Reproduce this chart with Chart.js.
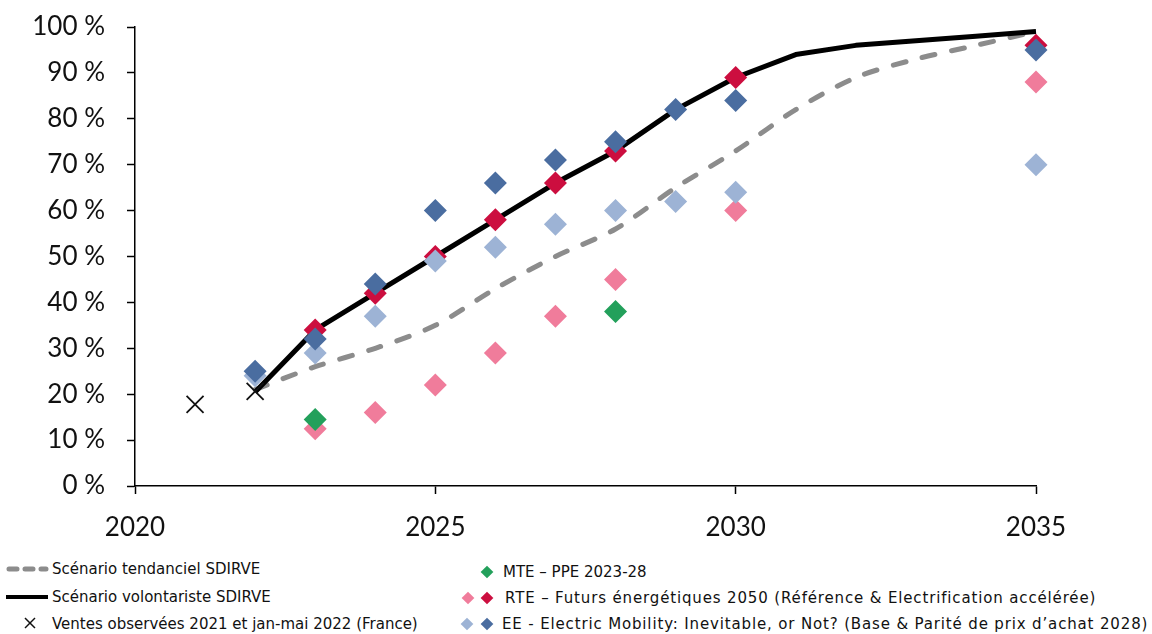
<!DOCTYPE html>
<html>
<head>
<meta charset="utf-8">
<script src="https://cdn.jsdelivr.net/npm/chart.js@4/dist/chart.umd.min.js"></script>
<style>
  html, body { margin: 0; padding: 0; background: #fff; }
  body { width: 1152px; height: 634px; position: relative; overflow: hidden; }
  #wrap { position: absolute; left: 0; top: 0; width: 1152px; height: 545px; }
  .lg { position: absolute; font-family: "DejaVu Sans", sans-serif; font-size: 15px; color: #111; white-space: nowrap; line-height: 18px; }
  .wide { letter-spacing: 0.85px; }
  #sym { position: absolute; left: 0; top: 545px; }
</style>
</head>
<body>
<div id="wrap"><canvas id="c" width="1152" height="545"></canvas></div>
<svg id="sym" width="1152" height="89" xmlns="http://www.w3.org/2000/svg">
  <line x1="9" y1="24" x2="46" y2="24" stroke="#8c8c8c" stroke-width="5" stroke-dasharray="8 8" stroke-linecap="round"/>
  <line x1="6" y1="52" x2="48" y2="52" stroke="#000" stroke-width="4"/>
  <g stroke="#111" stroke-width="1.5"><line x1="25" y1="73" x2="35" y2="83"/><line x1="35" y1="73" x2="25" y2="83"/></g>
  <rect x="482.5" y="22.5" width="9" height="9" fill="#23a05b" transform="rotate(45 487 27)"/>
  <rect x="463.5" y="48.5" width="9" height="9" fill="#f07c9b" transform="rotate(45 468 53)"/>
  <rect x="482.5" y="48.5" width="9" height="9" fill="#cc0e3f" transform="rotate(45 487 53)"/>
  <rect x="462.5" y="74.5" width="9" height="9" fill="#9db3d5" transform="rotate(45 467 79)"/>
  <rect x="482.5" y="74.5" width="9" height="9" fill="#4a6da0" transform="rotate(45 487 79)"/>
</svg>
<div class="lg" style="left:52px; top:560px;">Scénario tendanciel SDIRVE</div>
<div class="lg" style="left:52px; top:588px;">Scénario volontariste SDIRVE</div>
<div class="lg" style="left:52px; top:615px;">Ventes observées 2021 et jan-mai 2022 (France)</div>
<div class="lg" style="left:503px; top:563px;">MTE – PPE 2023-28</div>
<div class="lg wide" style="left:505px; top:589px;">RTE – Futurs énergétiques 2050 (Référence &amp; Electrification accélérée)</div>
<div class="lg wide" style="left:502px; top:615px;">EE - Electric Mobility: Inevitable, or Not? (Base &amp; Parité de prix d’achat 2028)</div>
<script>
// ---- Data (values in %) ----
const xTicks = [2020, 2025, 2030, 2035];
const yTicks = [0, 10, 20, 30, 40, 50, 60, 70, 80, 90, 100];

const scenarioYears = [2022, 2023, 2024, 2025, 2026, 2027, 2028, 2029, 2030, 2031, 2032, 2033, 2034, 2035];
const tendanciel   = [21, 26, 30, 35, 43, 50, 56, 65, 73, 82, 89, 93, 96, 99];
const volontariste = [20.5, 34, 42, 50, 58, 66, 73, 82, 89, 94, 96, 97, 98, 99];

const ventesYears = [2021, 2022];
const ventes = [17.8, 20.6];

const mteYears = [2023, 2028];
const mte = [14.5, 38];

const rteYears = [2023, 2024, 2025, 2026, 2027, 2028, 2030, 2035];
const rteReference = [12.5, 16, 22, 29, 37, 45, 60, 88];
const rteAccel     = [34, 42, 50, 58, 66, 73, 89, 96];

const eeYears = [2022, 2023, 2024, 2025, 2026, 2027, 2028, 2029, 2030, 2035];
const eeBase   = [24, 29, 37, 49, 52, 57, 60, 62, 64, 70];
const eeParite = [25, 32, 44, 60, 66, 71, 75, 82, 84, 95];

const pts = (xs, ys) => xs.map((x, i) => ({ x: x, y: ys[i] }));

const diamond = (label, xs, ys, color, order) => ({
  type: 'scatter', label, data: pts(xs, ys), order,
  pointStyle: 'rectRot', pointRadius: 11.5, pointHoverRadius: 11.5,
  backgroundColor: color, borderColor: color, borderWidth: 0, showLine: false
});

const tickFont = { family: 'Lato, "Open Sans", sans-serif', size: 26 };

new Chart(document.getElementById('c'), {
  type: 'scatter',
  data: {
    datasets: [
      { type: 'line', label: 'Ventes observées 2021 et jan-mai 2022 (France)', data: pts(ventesYears, ventes), order: 0,
        showLine: false, pointStyle: 'crossRot', pointRadius: 12, pointBorderWidth: 1.8,
        borderColor: '#111', backgroundColor: '#111' },
      diamond('EE Parité', eeYears, eeParite, '#4a6da0', 1),
      diamond('EE Base', eeYears, eeBase, '#9db3d5', 2),
      diamond('MTE – PPE 2023-28', mteYears, mte, '#23a05b', 3),
      diamond('RTE Electrification accélérée', rteYears, rteAccel, '#cc0e3f', 4),
      diamond('RTE Référence', rteYears, rteReference, '#f07c9b', 5),
      { type: 'line', label: 'Scénario volontariste SDIRVE', data: pts(scenarioYears, volontariste), order: 6,
        borderColor: '#000', borderWidth: 5, pointRadius: 0, tension: 0, fill: false, borderJoinStyle: 'round' },
      { type: 'line', label: 'Scénario tendanciel SDIRVE', data: pts(scenarioYears, tendanciel), order: 7,
        borderColor: '#8c8c8c', borderWidth: 5, borderDash: [13, 17], borderCapStyle: 'round',
        pointRadius: 0, tension: 0.3, fill: false }
    ]
  },
  options: {
    responsive: false,
    animation: false,
    clip: false,
    layout: { padding: { left: 0, right: 116, top: 27, bottom: 0 } },
    plugins: { legend: { display: false }, tooltip: { enabled: false } },
    scales: {
      x: {
        type: 'linear', min: 2020, max: 2035,
        afterBuildTicks: (s) => { s.ticks = xTicks.map(v => ({ value: v })); },
        afterFit: (s) => { s.height = 59; s.paddingLeft = 0; s.paddingRight = 0; },
        border: { display: true, color: '#000', width: 1.5 },
        grid: { display: true, drawOnChartArea: false, drawTicks: true, tickLength: 8, color: '#000', tickWidth: 1.5 },
        ticks: { font: tickFont, color: '#111', padding: 18, maxRotation: 0, callback: (v) => String(v) }
      },
      y: {
        min: 0, max: 100,
        afterBuildTicks: (s) => { s.ticks = yTicks.map(v => ({ value: v })); },
        afterFit: (s) => { s.width = 135; s.paddingTop = 0; s.paddingBottom = 0; },
        border: { display: true, color: '#000', width: 1.5 },
        grid: { display: true, drawOnChartArea: false, drawTicks: true, tickLength: 8, color: '#000', tickWidth: 1.5 },
        ticks: { font: tickFont, color: '#111', padding: 22, callback: (v) => v + ' %' }
      }
    }
  }
});
</script>
</body>
</html>
